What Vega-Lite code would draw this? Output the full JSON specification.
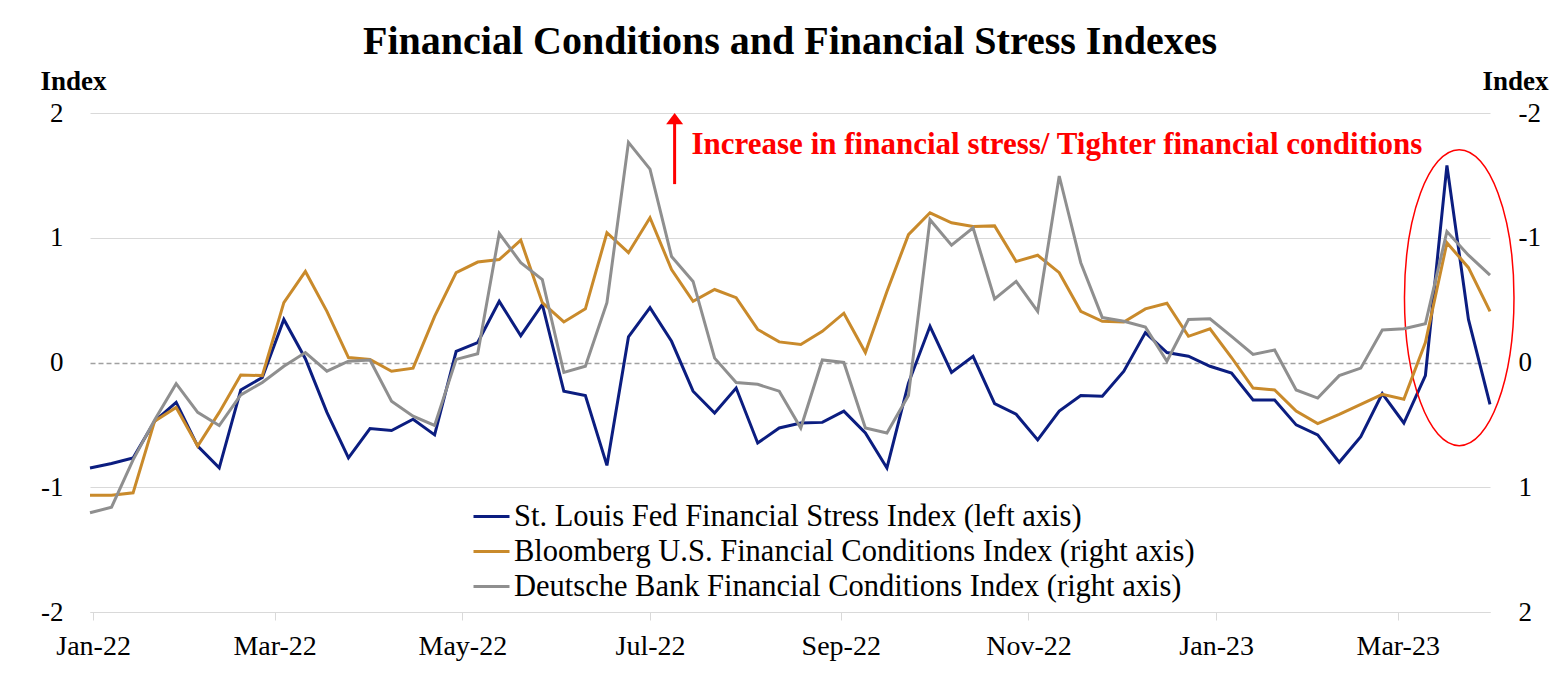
{
  "$schema": "https://vega.github.io/schema/vega-lite/v6.json",
  "width": 1400,
  "height": 499,
  "autosize": {"type": "none"},
  "padding": {"left": 90, "top": 113, "right": 74, "bottom": 62},
  "background": "white",
  "config": {"view": {"stroke": null}, "font": "Liberation Serif"},
  "title": {"text": "Financial Conditions and Financial Stress Indexes", "font": "Liberation Serif", "fontSize": 40, "fontWeight": "bold", "color": "#000000", "anchor": "middle", "offset": 5},
  "data": {"values": [
    {"d":"2021-12-31","s":"STL","v":-0.845},{"d":"2022-01-07","s":"STL","v":-0.81},{"d":"2022-01-14","s":"STL","v":-0.765},{"d":"2022-01-21","s":"STL","v":-0.47},{"d":"2022-01-28","s":"STL","v":-0.32},{"d":"2022-02-04","s":"STL","v":-0.67},{"d":"2022-02-11","s":"STL","v":-0.845},{"d":"2022-02-18","s":"STL","v":-0.22},{"d":"2022-02-25","s":"STL","v":-0.12},{"d":"2022-03-04","s":"STL","v":0.345},{"d":"2022-03-11","s":"STL","v":0.03},{"d":"2022-03-18","s":"STL","v":-0.40},{"d":"2022-03-25","s":"STL","v":-0.765},{"d":"2022-04-01","s":"STL","v":-0.53},{"d":"2022-04-08","s":"STL","v":-0.545},{"d":"2022-04-15","s":"STL","v":-0.455},{"d":"2022-04-22","s":"STL","v":-0.58},{"d":"2022-04-29","s":"STL","v":0.09},{"d":"2022-05-06","s":"STL","v":0.16},{"d":"2022-05-13","s":"STL","v":0.49},{"d":"2022-05-20","s":"STL","v":0.215},{"d":"2022-05-27","s":"STL","v":0.465},{"d":"2022-06-03","s":"STL","v":-0.23},{"d":"2022-06-10","s":"STL","v":-0.265},{"d":"2022-06-17","s":"STL","v":-0.825},{"d":"2022-06-24","s":"STL","v":0.205},{"d":"2022-07-01","s":"STL","v":0.44},{"d":"2022-07-08","s":"STL","v":0.17},{"d":"2022-07-15","s":"STL","v":-0.23},{"d":"2022-07-22","s":"STL","v":-0.405},{"d":"2022-07-29","s":"STL","v":-0.205},{"d":"2022-08-05","s":"STL","v":-0.645},{"d":"2022-08-12","s":"STL","v":-0.525},{"d":"2022-08-19","s":"STL","v":-0.485},{"d":"2022-08-26","s":"STL","v":-0.48},{"d":"2022-09-02","s":"STL","v":-0.39},{"d":"2022-09-09","s":"STL","v":-0.565},{"d":"2022-09-16","s":"STL","v":-0.845},{"d":"2022-09-23","s":"STL","v":-0.165},{"d":"2022-09-30","s":"STL","v":0.29},{"d":"2022-10-07","s":"STL","v":-0.08},{"d":"2022-10-14","s":"STL","v":0.05},{"d":"2022-10-21","s":"STL","v":-0.33},{"d":"2022-10-28","s":"STL","v":-0.415},{"d":"2022-11-04","s":"STL","v":-0.62},{"d":"2022-11-11","s":"STL","v":-0.39},{"d":"2022-11-18","s":"STL","v":-0.265},{"d":"2022-11-25","s":"STL","v":-0.27},{"d":"2022-12-02","s":"STL","v":-0.07},{"d":"2022-12-09","s":"STL","v":0.24},{"d":"2022-12-16","s":"STL","v":0.08},{"d":"2022-12-23","s":"STL","v":0.05},{"d":"2022-12-30","s":"STL","v":-0.03},{"d":"2023-01-06","s":"STL","v":-0.085},{"d":"2023-01-13","s":"STL","v":-0.30},{"d":"2023-01-20","s":"STL","v":-0.30},{"d":"2023-01-27","s":"STL","v":-0.50},{"d":"2023-02-03","s":"STL","v":-0.58},{"d":"2023-02-10","s":"STL","v":-0.80},{"d":"2023-02-17","s":"STL","v":-0.595},{"d":"2023-02-24","s":"STL","v":-0.25},{"d":"2023-03-03","s":"STL","v":-0.485},{"d":"2023-03-10","s":"STL","v":-0.105},{"d":"2023-03-17","s":"STL","v":1.58},{"d":"2023-03-24","s":"STL","v":0.345},{"d":"2023-03-31","s":"STL","v":-0.335},
    {"d":"2021-12-31","s":"BBG","v":1.065},{"d":"2022-01-07","s":"BBG","v":1.065},{"d":"2022-01-14","s":"BBG","v":1.045},{"d":"2022-01-21","s":"BBG","v":0.47},{"d":"2022-01-28","s":"BBG","v":0.36},{"d":"2022-02-04","s":"BBG","v":0.67},{"d":"2022-02-11","s":"BBG","v":0.40},{"d":"2022-02-18","s":"BBG","v":0.10},{"d":"2022-02-25","s":"BBG","v":0.105},{"d":"2022-03-04","s":"BBG","v":-0.48},{"d":"2022-03-11","s":"BBG","v":-0.73},{"d":"2022-03-18","s":"BBG","v":-0.41},{"d":"2022-03-25","s":"BBG","v":-0.04},{"d":"2022-04-01","s":"BBG","v":-0.025},{"d":"2022-04-08","s":"BBG","v":0.07},{"d":"2022-04-15","s":"BBG","v":0.045},{"d":"2022-04-22","s":"BBG","v":-0.37},{"d":"2022-04-29","s":"BBG","v":-0.72},{"d":"2022-05-06","s":"BBG","v":-0.805},{"d":"2022-05-13","s":"BBG","v":-0.825},{"d":"2022-05-20","s":"BBG","v":-0.98},{"d":"2022-05-27","s":"BBG","v":-0.48},{"d":"2022-06-03","s":"BBG","v":-0.325},{"d":"2022-06-10","s":"BBG","v":-0.43},{"d":"2022-06-17","s":"BBG","v":-1.04},{"d":"2022-06-24","s":"BBG","v":-0.88},{"d":"2022-07-01","s":"BBG","v":-1.16},{"d":"2022-07-08","s":"BBG","v":-0.745},{"d":"2022-07-15","s":"BBG","v":-0.49},{"d":"2022-07-22","s":"BBG","v":-0.585},{"d":"2022-07-29","s":"BBG","v":-0.52},{"d":"2022-08-05","s":"BBG","v":-0.265},{"d":"2022-08-12","s":"BBG","v":-0.165},{"d":"2022-08-19","s":"BBG","v":-0.145},{"d":"2022-08-26","s":"BBG","v":-0.25},{"d":"2022-09-02","s":"BBG","v":-0.395},{"d":"2022-09-09","s":"BBG","v":-0.08},{"d":"2022-09-16","s":"BBG","v":-0.57},{"d":"2022-09-23","s":"BBG","v":-1.025},{"d":"2022-09-30","s":"BBG","v":-1.2},{"d":"2022-10-07","s":"BBG","v":-1.12},{"d":"2022-10-14","s":"BBG","v":-1.09},{"d":"2022-10-21","s":"BBG","v":-1.095},{"d":"2022-10-28","s":"BBG","v":-0.81},{"d":"2022-11-04","s":"BBG","v":-0.86},{"d":"2022-11-11","s":"BBG","v":-0.72},{"d":"2022-11-18","s":"BBG","v":-0.41},{"d":"2022-11-25","s":"BBG","v":-0.33},{"d":"2022-12-02","s":"BBG","v":-0.325},{"d":"2022-12-09","s":"BBG","v":-0.43},{"d":"2022-12-16","s":"BBG","v":-0.475},{"d":"2022-12-23","s":"BBG","v":-0.21},{"d":"2022-12-30","s":"BBG","v":-0.27},{"d":"2023-01-06","s":"BBG","v":-0.04},{"d":"2023-01-13","s":"BBG","v":0.205},{"d":"2023-01-20","s":"BBG","v":0.22},{"d":"2023-01-27","s":"BBG","v":0.39},{"d":"2023-02-03","s":"BBG","v":0.49},{"d":"2023-02-10","s":"BBG","v":0.415},{"d":"2023-02-17","s":"BBG","v":0.335},{"d":"2023-02-24","s":"BBG","v":0.255},{"d":"2023-03-03","s":"BBG","v":0.295},{"d":"2023-03-10","s":"BBG","v":-0.16},{"d":"2023-03-17","s":"BBG","v":-0.96},{"d":"2023-03-24","s":"BBG","v":-0.76},{"d":"2023-03-31","s":"BBG","v":-0.41},
    {"d":"2021-12-31","s":"DB","v":1.205},{"d":"2022-01-07","s":"DB","v":1.16},{"d":"2022-01-14","s":"DB","v":0.78},{"d":"2022-01-21","s":"DB","v":0.46},{"d":"2022-01-28","s":"DB","v":0.17},{"d":"2022-02-04","s":"DB","v":0.40},{"d":"2022-02-11","s":"DB","v":0.505},{"d":"2022-02-18","s":"DB","v":0.26},{"d":"2022-02-25","s":"DB","v":0.16},{"d":"2022-03-04","s":"DB","v":0.03},{"d":"2022-03-11","s":"DB","v":-0.08},{"d":"2022-03-18","s":"DB","v":0.07},{"d":"2022-03-25","s":"DB","v":-0.01},{"d":"2022-04-01","s":"DB","v":-0.02},{"d":"2022-04-08","s":"DB","v":0.31},{"d":"2022-04-15","s":"DB","v":0.43},{"d":"2022-04-22","s":"DB","v":0.505},{"d":"2022-04-29","s":"DB","v":-0.025},{"d":"2022-05-06","s":"DB","v":-0.07},{"d":"2022-05-13","s":"DB","v":-1.035},{"d":"2022-05-20","s":"DB","v":-0.80},{"d":"2022-05-27","s":"DB","v":-0.665},{"d":"2022-06-03","s":"DB","v":0.08},{"d":"2022-06-10","s":"DB","v":0.03},{"d":"2022-06-17","s":"DB","v":-0.48},{"d":"2022-06-24","s":"DB","v":-1.765},{"d":"2022-07-01","s":"DB","v":-1.55},{"d":"2022-07-08","s":"DB","v":-0.85},{"d":"2022-07-15","s":"DB","v":-0.65},{"d":"2022-07-22","s":"DB","v":-0.035},{"d":"2022-07-29","s":"DB","v":0.16},{"d":"2022-08-05","s":"DB","v":0.175},{"d":"2022-08-12","s":"DB","v":0.23},{"d":"2022-08-19","s":"DB","v":0.525},{"d":"2022-08-26","s":"DB","v":-0.02},{"d":"2022-09-02","s":"DB","v":0.0},{"d":"2022-09-09","s":"DB","v":0.525},{"d":"2022-09-16","s":"DB","v":0.565},{"d":"2022-09-23","s":"DB","v":0.265},{"d":"2022-09-30","s":"DB","v":-1.145},{"d":"2022-10-07","s":"DB","v":-0.94},{"d":"2022-10-14","s":"DB","v":-1.08},{"d":"2022-10-21","s":"DB","v":-0.51},{"d":"2022-10-28","s":"DB","v":-0.65},{"d":"2022-11-04","s":"DB","v":-0.41},{"d":"2022-11-11","s":"DB","v":-1.495},{"d":"2022-11-18","s":"DB","v":-0.80},{"d":"2022-11-25","s":"DB","v":-0.36},{"d":"2022-12-02","s":"DB","v":-0.33},{"d":"2022-12-09","s":"DB","v":-0.285},{"d":"2022-12-16","s":"DB","v":-0.01},{"d":"2022-12-23","s":"DB","v":-0.345},{"d":"2022-12-30","s":"DB","v":-0.35},{"d":"2023-01-06","s":"DB","v":-0.21},{"d":"2023-01-13","s":"DB","v":-0.065},{"d":"2023-01-20","s":"DB","v":-0.10},{"d":"2023-01-27","s":"DB","v":0.22},{"d":"2023-02-03","s":"DB","v":0.285},{"d":"2023-02-10","s":"DB","v":0.105},{"d":"2023-02-17","s":"DB","v":0.045},{"d":"2023-02-24","s":"DB","v":-0.26},{"d":"2023-03-03","s":"DB","v":-0.27},{"d":"2023-03-10","s":"DB","v":-0.31},{"d":"2023-03-17","s":"DB","v":-1.05},{"d":"2023-03-24","s":"DB","v":-0.86},{"d":"2023-03-31","s":"DB","v":-0.70}
  ]},
  "layer": [
    {
      "layer": [
        {
          "mark": {"type": "line", "strokeWidth": 3},
          "transform": [{"filter": "datum.s == 'STL'"}],
          "encoding": {
            "x": {"field": "d", "type": "temporal",
              "scale": {"type": "utc", "domain": [{"year": 2021, "month": 12, "date": 31, "utc": true}, {"year": 2023, "month": 3, "date": 31, "utc": true}]},
              "axis": {"title": null, "labelExpr": "utcFormat(datum.value, '%b-%y')", "grid": false,
                "values": [{"year": 2022, "month": 1, "date": 1, "utc": true}, {"year": 2022, "month": 3, "date": 1, "utc": true}, {"year": 2022, "month": 5, "date": 1, "utc": true}, {"year": 2022, "month": 7, "date": 1, "utc": true}, {"year": 2022, "month": 9, "date": 1, "utc": true}, {"year": 2022, "month": 11, "date": 1, "utc": true}, {"year": 2023, "month": 1, "date": 1, "utc": true}, {"year": 2023, "month": 3, "date": 1, "utc": true}],
                "domainColor": "#d9d9d9", "tickColor": "#d9d9d9", "tickSize": 8, "labelFont": "Liberation Serif", "labelFontSize": 28, "labelColor": "#000000", "labelPadding": 12}},
            "y": {"field": "v", "type": "quantitative",
              "scale": {"domain": [-2, 2]},
              "axis": {"values": [-2, -1, 0, 1, 2], "title": "Index", "titleAngle": 0, "titleAlign": "center", "titleBaseline": "alphabetic", "titleX": -17, "titleY": -24,
                "titleFont": "Liberation Serif", "titleFontSize": 27, "titleFontWeight": "bold", "titleColor": "#000000",
                "labelFont": "Liberation Serif", "labelFontSize": 27, "labelColor": "#000000", "labelPadding": 27, "labelExpr": "'' + datum.value",
                "ticks": false, "domain": false, "grid": true,
                "gridColor": {"condition": {"test": "datum.value === 0", "value": "#a0a0a0"}, "value": "#d9d9d9"},
                "gridDash": {"condition": {"test": "datum.value === 0", "value": [5, 3]}, "value": []},
                "gridWidth": {"condition": {"test": "datum.value === 0", "value": 1.5}, "value": 1}}},
            "color": {"field": "s", "type": "nominal",
              "scale": {"domain": ["STL", "BBG", "DB"], "range": ["#0b1d80", "#c98a2b", "#8f8f8f"]},
              "legend": {"orient": "none", "legendX": 382, "legendY": 384, "title": null, "symbolType": "stroke", "symbolSize": 1296, "symbolStrokeWidth": 3,
                "labelFont": "Liberation Serif", "labelFontSize": 30.5, "labelColor": "#000000", "labelOffset": 3, "rowPadding": 0, "padding": 0, "labelLimit": 1000,
                "labelExpr": "datum.value == 'STL' ? 'St. Louis Fed Financial Stress Index (left axis)' : datum.value == 'BBG' ? 'Bloomberg U.S. Financial Conditions Index (right axis)' : 'Deutsche Bank Financial Conditions Index (right axis)'"}}
          }
        },
        {
          "data": {"values": [{"a": 1}]},
          "mark": {"type": "rule", "color": "#ff0000", "strokeWidth": 3},
          "encoding": {
            "x": {"datum": {"year": 2022, "month": 7, "date": 9, "utc": true}, "type": "temporal"},
            "y": {"datum": 1.43, "type": "quantitative", "scale": {"domain": [-2, 2]}},
            "y2": {"datum": 1.93}
          }
        },
        {
          "data": {"values": [{"a": 1}]},
          "mark": {"type": "point", "filled": true, "color": "#ff0000", "opacity": 1, "size": 289, "shape": "M0,-0.65L1,0.65L-1,0.65Z"},
          "encoding": {
            "x": {"datum": {"year": 2022, "month": 7, "date": 9, "utc": true}, "type": "temporal"},
            "y": {"datum": 1.955, "type": "quantitative", "scale": {"domain": [-2, 2]}}
          }
        },
        {
          "data": {"values": [{"t": "Increase in financial stress/ Tighter financial conditions"}]},
          "mark": {"type": "text", "align": "left", "baseline": "middle", "font": "Liberation Serif", "fontSize": 31, "fontWeight": "bold", "color": "#ff0000"},
          "encoding": {
            "x": {"datum": {"year": 2022, "month": 7, "date": 14, "hours": 12, "utc": true}, "type": "temporal"},
            "y": {"datum": 1.74, "type": "quantitative", "scale": {"domain": [-2, 2]}},
            "text": {"field": "t"}
          }
        },
        {
          "data": {"values": [{"a": 1}]},
          "mark": {"type": "point", "filled": false, "stroke": "#ff0000", "strokeWidth": 1.5, "opacity": 1, "size": 87616,
            "shape": "M-0.37,0C-0.37,-0.5523,-0.2043,-1,0,-1C0.2043,-1,0.37,-0.5523,0.37,0C0.37,0.5523,0.2043,1,0,1C-0.2043,1,-0.37,0.5523,-0.37,0Z"},
          "encoding": {
            "x": {"datum": {"year": 2023, "month": 3, "date": 21, "utc": true}, "type": "temporal"},
            "y": {"datum": 0.52, "type": "quantitative", "scale": {"domain": [-2, 2]}}
          }
        }
      ]
    },
    {
      "mark": {"type": "line", "strokeWidth": 3},
      "transform": [{"filter": "datum.s != 'STL'"}],
      "encoding": {
        "x": {"field": "d", "type": "temporal",
          "scale": {"type": "utc", "domain": [{"year": 2021, "month": 12, "date": 31, "utc": true}, {"year": 2023, "month": 3, "date": 31, "utc": true}]},
          "axis": {"title": null, "labelExpr": "utcFormat(datum.value, '%b-%y')", "grid": false,
            "values": [{"year": 2022, "month": 1, "date": 1, "utc": true}, {"year": 2022, "month": 3, "date": 1, "utc": true}, {"year": 2022, "month": 5, "date": 1, "utc": true}, {"year": 2022, "month": 7, "date": 1, "utc": true}, {"year": 2022, "month": 9, "date": 1, "utc": true}, {"year": 2022, "month": 11, "date": 1, "utc": true}, {"year": 2023, "month": 1, "date": 1, "utc": true}, {"year": 2023, "month": 3, "date": 1, "utc": true}],
            "domainColor": "#d9d9d9", "tickColor": "#d9d9d9", "tickSize": 8, "labelFont": "Liberation Serif", "labelFontSize": 28, "labelColor": "#000000", "labelPadding": 12}},
        "y": {"field": "v", "type": "quantitative",
          "scale": {"domain": [-2, 2], "reverse": true},
          "axis": {"orient": "right", "values": [-2, -1, 0, 1, 2], "title": "Index", "titleAngle": 0, "titleAlign": "center", "titleBaseline": "alphabetic", "titleX": 25, "titleY": -24,
            "titleFont": "Liberation Serif", "titleFontSize": 27, "titleFontWeight": "bold", "titleColor": "#000000",
            "labelFont": "Liberation Serif", "labelFontSize": 27, "labelColor": "#000000", "labelPadding": 28, "labelExpr": "'' + datum.value",
            "ticks": false, "domain": false, "grid": false}},
        "color": {"field": "s", "type": "nominal"}
      }
    }
  ],
  "resolve": {"scale": {"y": "independent"}}
}
